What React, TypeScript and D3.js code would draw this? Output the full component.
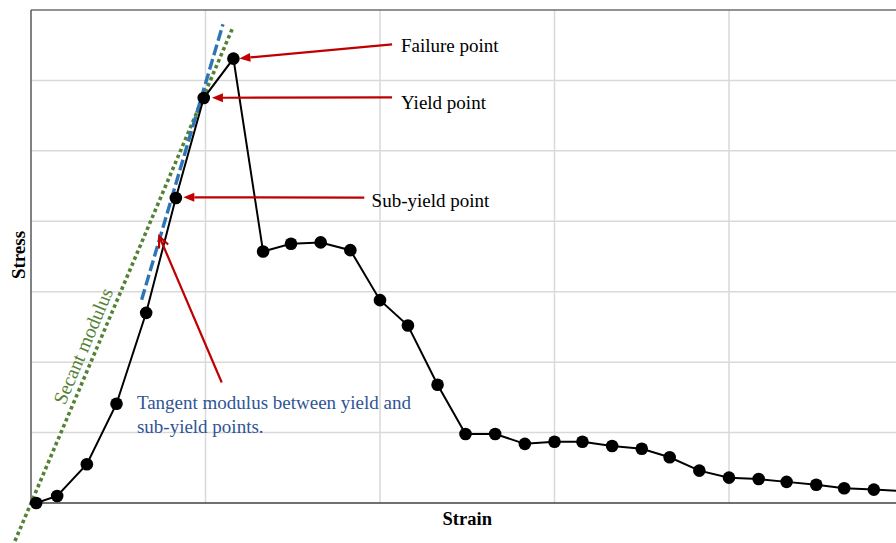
import React from "react";
import * as d3 from "d3";

const strain = [0.03, 0.15, 0.32, 0.49, 0.66, 0.83, 0.99, 1.16, 1.33, 1.49, 1.66, 1.83, 2.0, 2.16, 2.33, 2.49, 2.66, 2.83, 3.0, 3.16, 3.33, 3.5, 3.66, 3.83, 4.0, 4.17, 4.33, 4.5, 4.66, 4.83, 5.0];
const stress = [0.0, 0.1, 0.55, 1.41, 2.7, 4.33, 5.75, 6.31, 3.57, 3.68, 3.7, 3.59, 2.88, 2.52, 1.68, 0.98, 0.98, 0.84, 0.87, 0.87, 0.81, 0.77, 0.65, 0.46, 0.36, 0.34, 0.3, 0.26, 0.21, 0.19, 0.17];

const xTicks = [0, 1, 2, 3, 4, 5];
const yTicks = [0, 1, 2, 3, 4, 5, 6, 7];

// secant line through origin: [strain, stress]
const secantLine = [[-0.092, -0.54], [1.158, 6.76]];
// tangent line between sub-yield and yield
const tangentLine = [[0.634, 2.886], [1.1, 6.797]];

const arrowLabels = ["Failure point", "Yield point", "Sub-yield point"];
const arrowFrom = [[2.069, 6.512], [2.069, 5.758], [1.91, 4.337]];
const arrowTo = [[1.194, 6.313], [1.037, 5.754], [0.873, 4.341]];
const labelAt = [[2.12, 6.41], [2.12, 5.6], [1.952, 4.2]];

const tangentArrowFrom = [1.093, 1.711];
const tangentArrowTo = [0.735, 3.786];
const tangentText = ["Tangent modulus between yield and", "sub-yield points."];
const tangentTextAt = [[0.607, 1.33], [0.607, 0.99]];

export default function App() {
  const W = 896, H = 543;
  const x = d3.scaleLinear().domain([0, 5]).range([31, 903.5]);
  const y = d3.scaleLinear().domain([0, 7]).range([503, 10]);
  const line = d3.line<number>().x((_, i) => x(strain[i])).y((d) => y(d));
  const serif = "'Liberation Serif', 'Times New Roman', serif";
  const red = "#c00000";
  const green = "#548235";
  const blue = "#2e75b6";

  const head = (from: number[], to: number[], len = 11, half = 4.5) => {
    const x1 = x(from[0]), y1 = y(from[1]), x2 = x(to[0]), y2 = y(to[1]);
    const a = Math.atan2(y2 - y1, x2 - x1);
    const bx = x2 - len * Math.cos(a), by = y2 - len * Math.sin(a);
    const px = -Math.sin(a) * half, py = Math.cos(a) * half;
    return { x1, y1, x2, y2, bx, by, px, py };
  };

  const secAngle = Math.atan2(y(secantLine[1][1]) - y(secantLine[0][1]), x(secantLine[1][0]) - x(secantLine[0][0])) * 180 / Math.PI;

  return (
    <svg width={W} height={H} style={{ position: "absolute", left: 0, top: 0, background: "#fff" }}>
      <rect width={W} height={H} fill="#fff" />
      {/* grid */}
      {xTicks.slice(1).map((t) => (
        <line key={"gx" + t} x1={x(t)} x2={x(t)} y1={y(7)} y2={y(0)} stroke="#d9d9d9" strokeWidth={1.5} />
      ))}
      {yTicks.slice(1, -1).map((t) => (
        <line key={"gy" + t} x1={x(0)} x2={W} y1={y(t)} y2={y(t)} stroke="#d9d9d9" strokeWidth={1.5} />
      ))}
      {/* border */}
      <line x1={x(0)} x2={W} y1={y(7)} y2={y(7)} stroke="#6e6e6e" strokeWidth={1.5} />
      <line x1={x(0)} x2={x(0)} y1={y(7)} y2={y(0)} stroke="#595959" strokeWidth={1.5} />
      <line x1={x(0)} x2={W} y1={y(0)} y2={y(0)} stroke="#404040" strokeWidth={1.5} />

      {/* secant line */}
      <line x1={x(secantLine[0][0])} y1={y(secantLine[0][1])} x2={x(secantLine[1][0])} y2={y(secantLine[1][1])}
        stroke={green} strokeWidth={3.6} strokeDasharray="3.5,3" />
      {/* tangent line */}
      <line x1={x(tangentLine[0][0])} y1={y(tangentLine[0][1])} x2={x(tangentLine[1][0])} y2={y(tangentLine[1][1])}
        stroke={blue} strokeWidth={3.4} strokeDasharray="11,4" />

      {/* data */}
      <path d={line(stress) || ""} fill="none" stroke="#000" strokeWidth={2} />
      {stress.map((s, i) => (
        <circle key={i} cx={x(strain[i])} cy={y(s)} r={6.3} fill="#000" />
      ))}

      {/* arrows */}
      {arrowLabels.map((lab, i) => {
        const h = head(arrowFrom[i], arrowTo[i]);
        return (
          <g key={lab}>
            <line x1={h.x1} y1={h.y1} x2={h.bx} y2={h.by} stroke={red} strokeWidth={2.2} />
            <polygon points={`${h.x2},${h.y2} ${h.bx + h.px},${h.by + h.py} ${h.bx - h.px},${h.by - h.py}`} fill={red} />
            <text x={x(labelAt[i][0])} y={y(labelAt[i][1])} fontFamily={serif} fontSize={19} fill="#000">{lab}</text>
          </g>
        );
      })}
      {(() => {
        const h = head(tangentArrowFrom, tangentArrowTo, 11, 5);
        return (
          <g>
            <line x1={h.x1} y1={h.y1} x2={h.x2} y2={h.y2} stroke={red} strokeWidth={2.2} />
            <polyline points={`${h.bx + h.px},${h.by + h.py} ${h.x2},${h.y2} ${h.bx - h.px},${h.by - h.py}`} fill="none" stroke={red} strokeWidth={2.2} />
          </g>
        );
      })()}
      {tangentText.map((t, i) => (
        <text key={t} x={x(tangentTextAt[i][0])} y={y(tangentTextAt[i][1])} fontFamily={serif} fontSize={19} fill="#2f5597">{t}</text>
      ))}

      {/* secant label */}
      <text transform={`translate(83,346) rotate(${secAngle})`} textAnchor="middle" dy="0.35em" fontFamily={serif} fontSize={19.5} fill={green}>Secant modulus</text>

      {/* axis titles */}
      <text x={(31 + 903.5) / 2} y={525} textAnchor="middle" fontFamily={serif} fontWeight="bold" fontSize={18.5} fill="#000">Strain</text>
      <text transform="translate(25,255) rotate(-90)" textAnchor="middle" fontFamily={serif} fontWeight="bold" fontSize={19} fill="#000">Stress</text>
    </svg>
  );
}
